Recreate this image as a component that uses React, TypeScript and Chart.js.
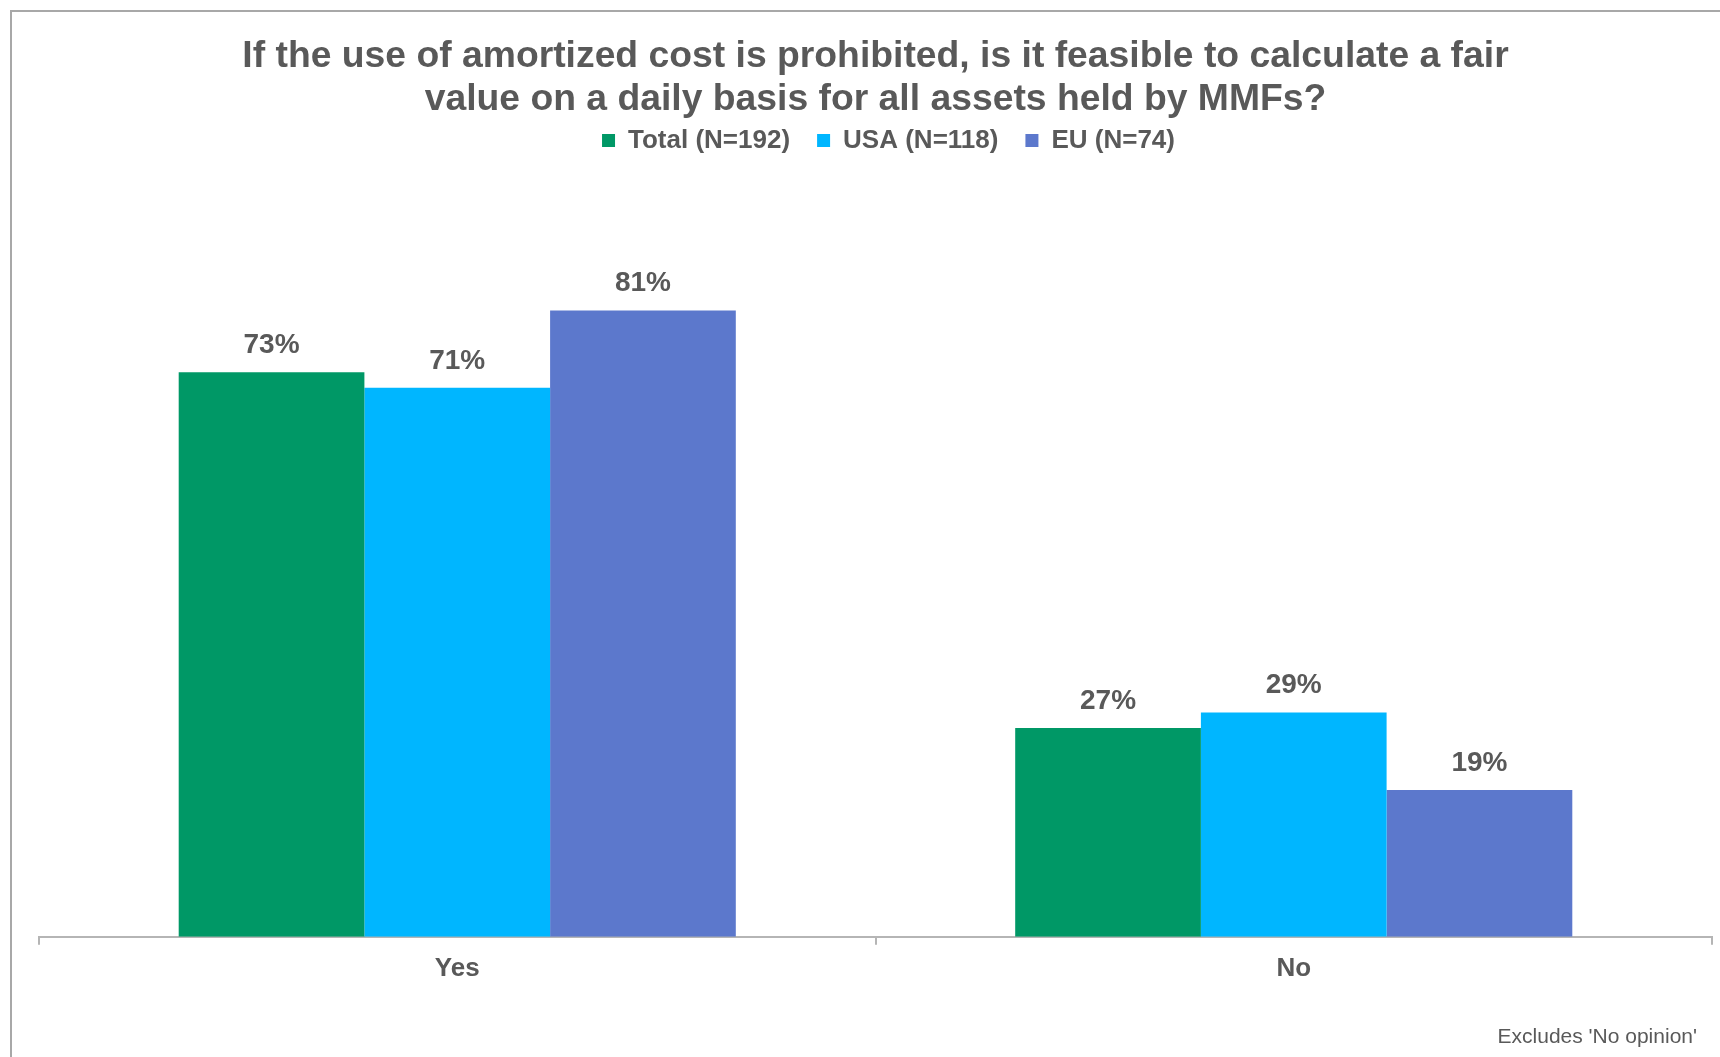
import React, { useEffect, useRef } from "react";
import { Chart, registerables } from "chart.js";

Chart.register(...registerables);

const titleLines = [
  "If the use of amortized cost is prohibited, is it feasible to calculate a fair",
  "value on a daily basis for all assets held by MMFs?",
];
const categories = ["Yes", "No"];
const seriesNames = ["Total (N=192)", "USA (N=118)", "EU (N=74)"];
const totalValues = [73, 27];
const usaValues = [71, 29];
const euValues = [81, 19];
const seriesColors = ["#009866", "#00B6FF", "#5C78CC"];
const footnote = "Excludes 'No opinion'";

const FONT = "'Liberation Sans', Arial, Helvetica, sans-serif";
const TEXT = "#595959";

export default function App() {
  const ref = useRef<HTMLCanvasElement | null>(null);

  useEffect(() => {
    if (!ref.current) return;
    const valueLabels = {
      id: "valueLabels",
      afterDatasetsDraw(chart: any) {
        const ctx = chart.ctx;
        ctx.save();
        ctx.font = `bold 28px ${FONT}`;
        ctx.fillStyle = TEXT;
        ctx.textAlign = "center";
        ctx.textBaseline = "middle";
        chart.data.datasets.forEach((ds: any, i: number) => {
          const meta = chart.getDatasetMeta(i);
          meta.data.forEach((el: any, j: number) => {
            ctx.fillText(`${ds.data[j]}%`, el.x, el.y - 27);
          });
        });
        ctx.restore();
      },
    };
    const legendShift = {
      id: "legendShift",
      afterLayout(chart: any) {
        if (chart.legend) {
          chart.legend.left += 13;
          chart.legend.right += 13;
        }
      },
    };
    const footnotePlugin = {
      id: "footnote",
      afterDraw(chart: any) {
        const ctx = chart.ctx;
        ctx.save();
        ctx.font = `21px ${FONT}`;
        ctx.fillStyle = TEXT;
        ctx.textAlign = "right";
        ctx.textBaseline = "alphabetic";
        ctx.fillText(footnote, 1697, 1043);
        ctx.restore();
      },
    };
    const chart = new Chart(ref.current, {
      type: "bar",
      data: {
        labels: categories,
        datasets: [
          { label: seriesNames[0], data: totalValues, backgroundColor: seriesColors[0] },
          { label: seriesNames[1], data: usaValues, backgroundColor: seriesColors[1] },
          { label: seriesNames[2], data: euValues, backgroundColor: seriesColors[2] },
        ],
      },
      options: {
        responsive: false,
        animation: false,
        events: [],
        layout: { padding: { left: 39, right: 8, top: 0, bottom: 65 } },
        datasets: {
          bar: { barPercentage: 1, categoryPercentage: 0.666, borderWidth: 0 },
        },
        plugins: {
          title: {
            display: true,
            text: titleLines,
            color: TEXT,
            font: { family: FONT, size: 37.3, weight: "bold", lineHeight: 1.16 },
            padding: { top: 35, bottom: -21 },
          },
          legend: {
            display: true,
            position: "top",
            labels: {
              boxWidth: 13,
              boxHeight: 13,
              padding: 27,
              color: TEXT,
              font: { family: FONT, size: 26, weight: "bold" },
            },
          },
          tooltip: { enabled: false },
        },
        scales: {
          x: {
            grid: {
              display: true,
              drawOnChartArea: false,
              drawTicks: true,
              tickLength: 8,
              color: "#B5B5B5",
              lineWidth: 2,
            },
            border: { display: true, color: "#B5B5B5", width: 2 },
            ticks: {
              color: TEXT,
              padding: 8,
              font: { family: FONT, size: 26, weight: "bold" },
            },
          },
          y: {
            display: false,
            min: 0,
            max: 100,
          },
        },
      },
      plugins: [valueLabels, legendShift, footnotePlugin],
    });
    return () => chart.destroy();
  }, []);

  return (
    <div
      style={{
        position: "fixed",
        left: 0,
        top: 0,
        width: 1720,
        height: 1057,
        overflow: "hidden",
        background: "#fff",
      }}
    >
      <div
        style={{
          position: "absolute",
          left: 10,
          top: 10,
          width: 2000,
          height: 2000,
          border: "2px solid #A8A8A8",
        }}
      />
      <canvas
        ref={ref}
        width={1720}
        height={1057}
        style={{ position: "absolute", left: 0, top: 0, width: 1720, height: 1057 }}
      />
    </div>
  );
}
